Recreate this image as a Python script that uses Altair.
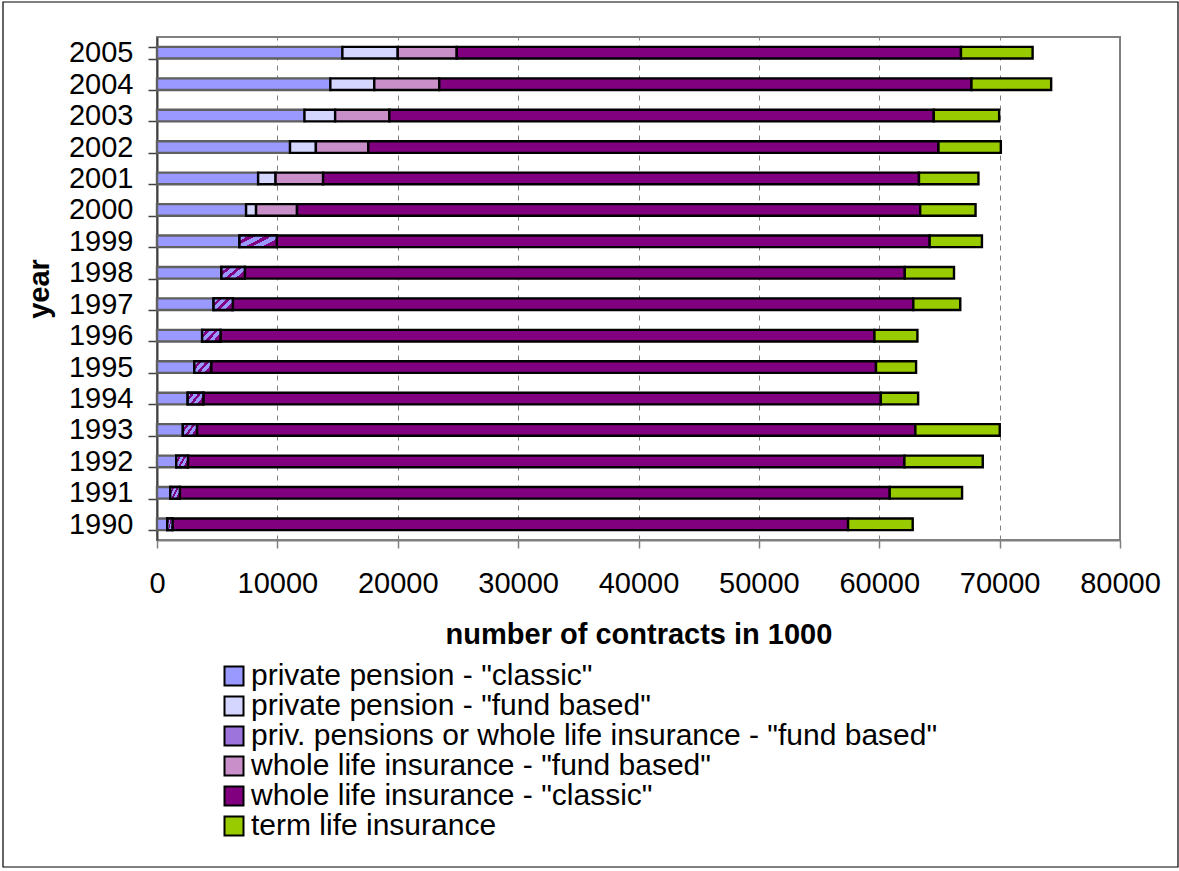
import altair as alt
import pandas as pd

years = list(range(1990, 2006))
series_names = [
    'private pension - "classic"',
    'private pension - "fund based"',
    'priv. pensions or whole life insurance - "fund based"',
    'whole life insurance - "fund based"',
    'whole life insurance - "classic"',
    'term life insurance',
]
classic_pension = [850, 1100, 1600, 2150, 2550, 3100, 3750, 4700, 5350, 6850, 7400, 8400, 11050, 12250, 14400, 15400]
fund_pension = [0, 0, 0, 0, 0, 0, 0, 0, 0, 0, 830, 1450, 2150, 2550, 3650, 4600]
hybrid_fund = [440, 800, 970, 1170, 1300, 1400, 1530, 1600, 1950, 3100, 0, 0, 0, 0, 0, 0]
wl_fund = [0, 0, 0, 0, 0, 0, 0, 0, 0, 0, 3400, 3950, 4350, 4500, 5400, 4900]
wl_classic = [56120, 58970, 59520, 59680, 56280, 55230, 54320, 56530, 54820, 54240, 51770, 49500, 47370, 45230, 44210, 41890]
term_life = [5370, 6010, 6510, 7010, 3100, 3330, 3570, 3900, 4090, 4340, 4600, 4940, 5180, 5430, 6620, 5950]
x_ticks = [0, 10000, 20000, 30000, 40000, 50000, 60000, 70000, 80000]

colors = ["#9999FF", "#D4D6FF", "#9C74DC", "#C98FC9", "#800080", "#99CC00"]
hatch_blue = "#9999FF"
hatch_purple = "#800080"

all_series = [classic_pension, fund_pension, hybrid_fund, wl_fund, wl_classic, term_life]
rows = []
for i, yr in enumerate(years):
    for k, (name, vals) in enumerate(zip(series_names, all_series)):
        rows.append({"year": str(yr), "series": name, "order": k, "value": vals[i]})
df = pd.DataFrame(rows)
year_sort = [str(y) for y in reversed(years)]

# diagonal hatch as a hard-stop gradient
stops = []
periods = 3
for p in range(periods):
    a = p / periods
    b = (p + 0.58) / periods
    c = (p + 1) / periods
    stops += [
        alt.GradientStop(offset=a, color=hatch_blue),
        alt.GradientStop(offset=b, color=hatch_blue),
        alt.GradientStop(offset=b, color=hatch_purple),
        alt.GradientStop(offset=c, color=hatch_purple),
    ]
hatch = alt.LinearGradient(gradient="linear", stops=stops, x1=0, y1=0, x2=1, y2=0.6)

y_enc = alt.Y("year:O", sort=year_sort,
              scale=alt.Scale(paddingInner=0.63, paddingOuter=0.315),
              axis=alt.Axis(title="year", tickBand="extent", labelFontSize=29,
                            titleFontSize=29, titleFontWeight="bold", tickSize=9,
                            tickColor="#404040", tickWidth=1.5, domainColor="#404040",
                            domainWidth=2, labelPadding=15, titlePadding=14, grid=False,
                            labelColor="black", titleColor="black"))
x_enc = alt.X("x0:Q", scale=alt.Scale(domain=[0, 80000], nice=False),
              axis=alt.Axis(title="number of contracts in 1000", values=x_ticks, format="d",
                            grid=True, gridDash=[5, 5], gridColor="#808080", gridWidth=1,
                            tickSize=8, tickColor="#808080", tickWidth=1.5,
                            domainColor="#808080", domainWidth=2, labelFontSize=29,
                            labelPadding=21, titleFontSize=29, titleFontWeight="bold",
                            titlePadding=22, labelFlush=False, labelOverlap=False,
                            labelColor="black", titleColor="black"))

base = (
    alt.Chart(df)
    .transform_filter("datum.value > 0")
    .transform_stack(stack="value", groupby=["year"], as_=["x0", "x1"],
                     sort=[alt.SortField("order", order="ascending")])
)

bars = base.mark_bar(strokeWidth=2.4).encode(
    y=y_enc,
    x=x_enc,
    x2="x1:Q",
    color=alt.Color("series:N", scale=alt.Scale(domain=series_names, range=colors),
                    legend=alt.Legend(title=None, orient="none", legendX=62, legendY=624,
                                      symbolType="square", symbolSize=361,
                                      symbolStrokeColor="black", symbolStrokeWidth=2,
                                      symbolOpacity=1,
                                      labelFontSize=30, labelColor="black", labelOffset=2,
                                      rowPadding=0, padding=0, labelLimit=1000)),
    stroke=alt.when(alt.datum.series == series_names[0])
    .then(alt.value("#606060"))
    .otherwise(alt.value("black")),
    opacity=alt.value(1),
)

hatched = (
    base.transform_filter(alt.datum.series == series_names[2])
    .mark_bar(color=hatch, stroke="black", strokeWidth=2.4, opacity=1)
    .encode(y=y_enc, x=x_enc, x2="x1:Q")
)

frame = (
    alt.Chart(pd.DataFrame({"a": [0]}))
    .mark_rect(fill=None, stroke="black", strokeWidth=1.2)
    .encode(x=alt.value(-154), x2=alt.value(1021), y=alt.value(-35), y2=alt.value(830))
)

chart = (
    alt.layer(bars, hatched, frame)
    .properties(width=963, height=503,
                autosize=alt.AutoSizeParams(type="none"),
                padding={"left": 157, "top": 37, "right": 59, "bottom": 329})
    .configure(font="Liberation Sans")
    .configure_view(stroke="#808080", strokeWidth=2)
)

chart.save("out.html", embed_options={"renderer": "svg", "actions": False})
